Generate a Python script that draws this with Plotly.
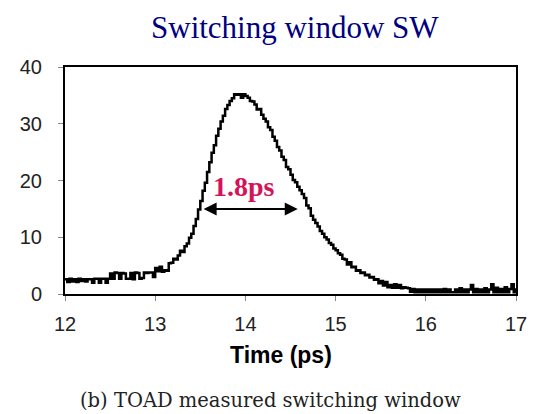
import plotly.graph_objects as go

# Time axis (ps), step 0.025 ps
time_ps = [round(12.0 + 0.025 * i, 3) for i in range(201)]

# Measured switching window values
sw_values = [
    2.6, 2.1, 2.7, 2.2, 2.6, 2.1, 2.7, 2.3, 2.6, 2.2,
    2.6, 2.6, 2.0, 2.7, 2.7, 2.0, 2.7, 2.7, 2.0, 2.7,
    3.6, 2.7, 3.8, 3.7, 2.7, 3.7, 3.6, 2.7, 2.7, 3.7,
    2.6, 3.8, 3.7, 2.7, 2.8, 3.8, 3.7, 3.8, 3.8, 3.0,
    4.6, 4.0, 4.8, 3.9, 4.2, 4.1, 5.4, 5.5, 6.2, 6.1,
    6.8, 7.6, 7.4, 8.4, 8.9, 9.9, 10.6, 12.0, 13.2, 14.9,
    16.4, 18.2, 19.6, 21.5, 23.2, 24.9, 26.2, 27.9, 29.1, 30.4,
    31.4, 32.6, 33.3, 34.0, 34.5, 35.2, 35.1, 35.2, 34.6, 35.2,
    34.9, 34.6, 34.0, 33.9, 33.4, 32.5, 32.6, 31.6, 30.9, 30.4,
    29.4, 28.9, 27.7, 27.0, 25.9, 25.3, 24.2, 23.6, 22.4, 22.0,
    21.0, 20.1, 19.7, 18.9, 18.3, 17.6, 16.9, 15.6, 15.1, 13.8,
    13.1, 12.5, 11.9, 11.1, 10.6, 10.0, 9.6, 9.0, 8.7, 8.0,
    7.7, 7.2, 6.9, 6.2, 6.1, 5.2, 5.6, 4.7, 4.8, 4.1,
    4.2, 3.7, 3.8, 3.3, 3.4, 2.9, 3.0, 2.5, 2.6, 1.9,
    2.3, 1.5, 2.1, 1.2, 1.6, 1.1, 1.7, 1.1, 1.6, 1.0,
    1.2, 1.1, 1.0, 0.4, 0.9, 0.3, 0.8, 0.3, 0.8, 0.3,
    0.8, 0.3, 0.8, 0.3, 0.8, 0.3, 0.8, 0.3, 0.9, 0.3,
    0.8, 0.3, 0.3, 0.8, 0.3, 1.0, 0.3, 0.8, 0.3, 0.8,
    1.6, 0.3, 0.9, 0.3, 0.8, 0.3, 1.0, 0.3, 0.8, 1.7,
    0.3, 1.1, 0.3, 0.9, 0.3, 1.2, 0.3, 0.9, 1.7, 0.3,
    1.0,
]

x_ticks = [12, 13, 14, 15, 16, 17]
y_ticks = [0, 10, 20, 30, 40]

# Width annotation
fwhm_label = "1.8ps"
arrow_start = 13.52
arrow_end = 14.58
arrow_level = 15.0

fig = go.Figure()
fig.add_trace(go.Scatter(
    x=time_ps, y=sw_values, mode="lines",
    line=dict(color="black", width=2.5, shape="hv"),
    showlegend=False, hoverinfo="skip",
))

tick_font = dict(family="Liberation Sans, Arial, sans-serif", size=20, color="#222")
axis_common = dict(
    showline=True, linecolor="black", linewidth=2, mirror=True,
    ticks="outside", ticklen=5, tickcolor="#888", tickwidth=1,
    showgrid=False, zeroline=False, tickfont=tick_font,
)

# page body has an 8px margin, so the figure is offset by (8, 8)
fig.update_layout(
    width=531, height=406,
    margin=dict(l=56, r=21, t=59, b=120),
    paper_bgcolor="white", plot_bgcolor="white",
    xaxis=dict(range=[12, 17], tickvals=x_ticks, ticklabelstandoff=6, **axis_common),
    yaxis=dict(range=[0, 40], tickvals=y_ticks, ticklabelstandoff=12, **axis_common),
)

# Double arrow
fig.add_annotation(
    x=arrow_end, y=arrow_level, ax=arrow_start, ay=arrow_level,
    xref="x", yref="y", axref="x", ayref="y",
    text="", showarrow=True, arrowhead=2, arrowside="end+start",
    arrowsize=1.3, arrowwidth=2, arrowcolor="black",
)
fig.add_annotation(
    x=13.98, y=19.0, xref="x", yref="y",
    text="<b>" + fwhm_label + "</b>", showarrow=False,
    font=dict(family="Liberation Serif, Times New Roman, serif", size=28, color="#d4145a"),
)

# Title
fig.add_annotation(
    x=0.509, y=1.176, xref="paper", yref="paper", yanchor="middle",
    text="Switching window SW", showarrow=False,
    font=dict(family="Liberation Serif, Times New Roman, serif", size=31, color="#00007f"),
)
# Axis title
fig.add_annotation(
    x=0.48, y=-0.269, xref="paper", yref="paper", yanchor="middle",
    text="<b>Time (ps)</b>", showarrow=False,
    font=dict(family="Liberation Sans, Arial, sans-serif", size=23, color="black"),
)
# Caption
fig.add_annotation(
    x=0.456, y=-0.471, xref="paper", yref="paper", yanchor="middle",
    text="(b) TOAD measured switching window", showarrow=False,
    font=dict(family="DejaVu Serif, Liberation Serif, serif", size=19.5, color="#222"),
)

fig.write_html("out.html")
